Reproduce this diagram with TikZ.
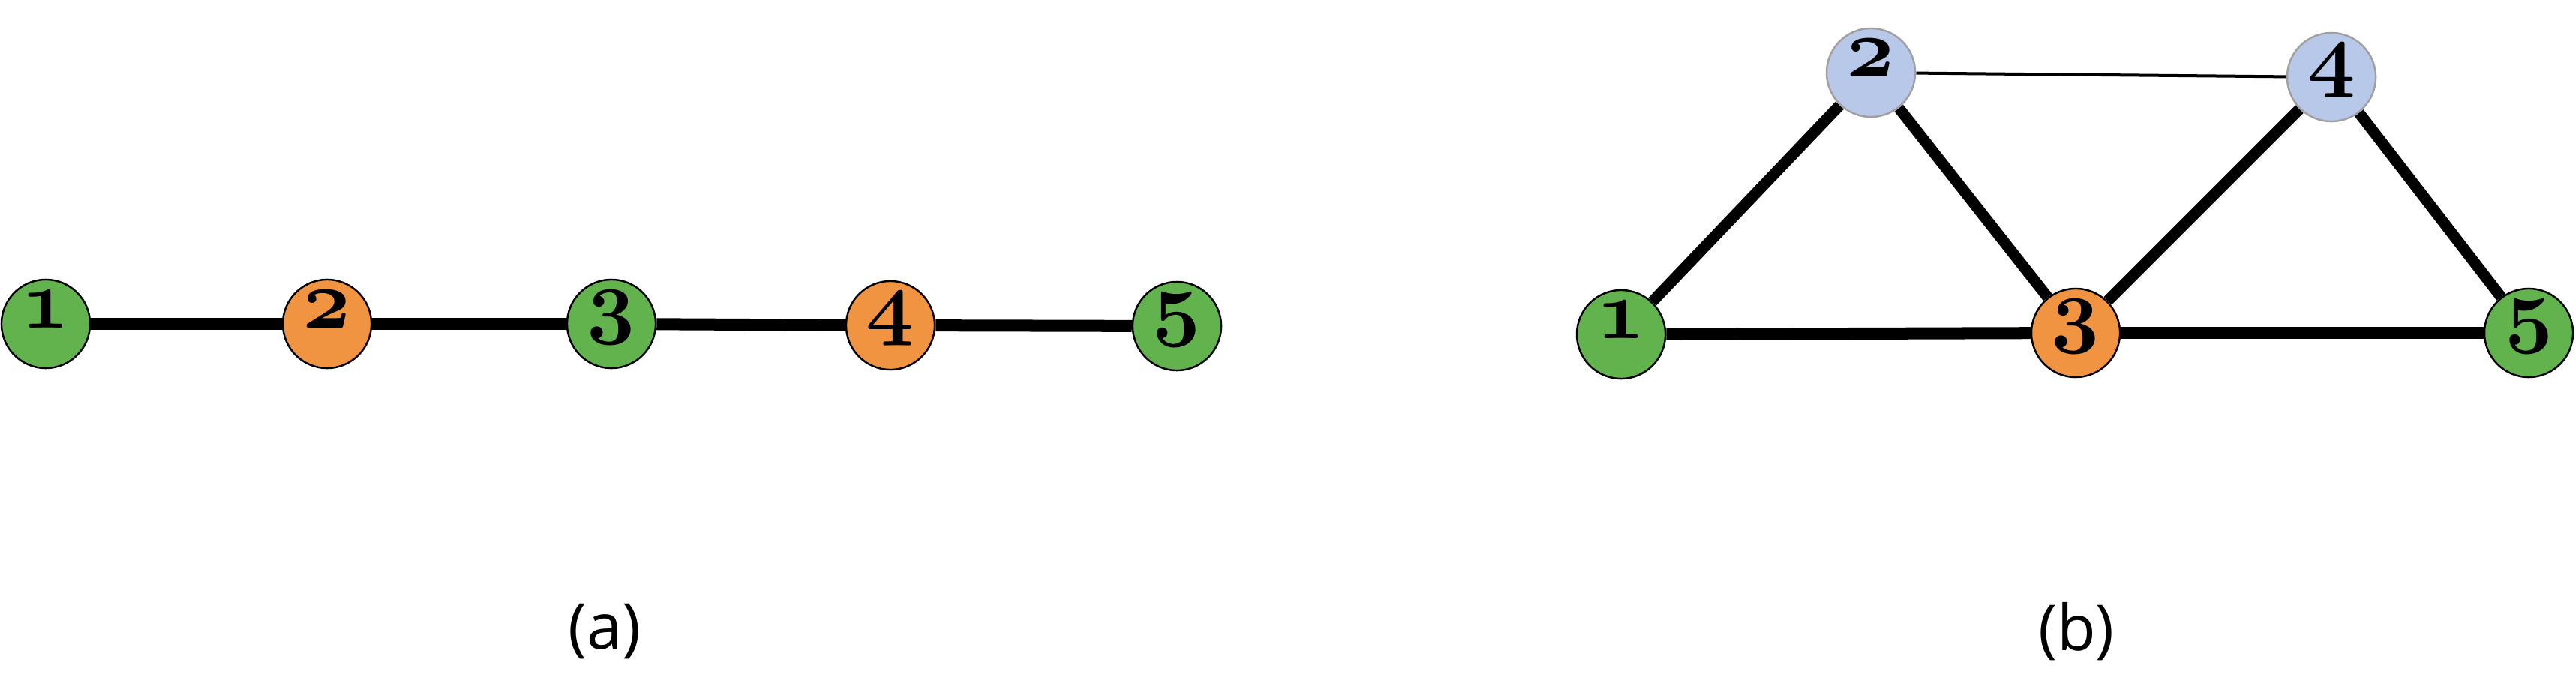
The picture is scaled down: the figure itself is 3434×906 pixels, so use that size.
\documentclass[tikz,border=0pt]{standalone}
\usepackage{fontspec}
\newfontfamily\capfont{Open Sans}
\usetikzlibrary{backgrounds}
\definecolor{vgreen}{HTML}{62B24E}
\definecolor{vorange}{HTML}{F09442}
\definecolor{vblue}{HTML}{B8C8E9}
\definecolor{vgray}{HTML}{A0A0A0}
\newcommand\osdig[1]{\scalebox{1.274}{\fontsize{24.88}{30}\usefont{OML}{cmm}{b}{it}#1}}
\tikzset{
  vtx/.style={circle, minimum size=1.18cm, inner sep=0pt, draw=black, line width=0.7pt,
    font=\fontsize{31.7}{38}\selectfont, text height=0.5em, text depth=0.213em},
  gv/.style={vtx, fill=vgreen},
  ov/.style={vtx, fill=vorange},
  bv/.style={vtx, fill=vblue, draw=vgray},
  thickedge/.style={line width=0.16cm},
  diagedge/.style={line width=0.148cm},
  thinedge/.style={line width=0.04cm},
  caplabel/.style={font=\capfont\fontsize{24}{29}\selectfont, inner sep=0pt}
}
\begin{document}
\begin{tikzpicture}[x=0.01cm, y=-0.01cm]
\useasboundingbox (0,0) rectangle (3434,906);
% (a)
\node[gv] (a1) at (61,432) {\osdig{1}};
\node[ov] (a2) at (436,432) {\osdig{2}};
\node[gv] (a3) at (815,432) {\osdig{3}};
\node[ov] (a4) at (1187,434) {\osdig{4}};
\node[gv] (a5) at (1569,435) {\osdig{5}};
% (b)
\node[gv] (b1) at (2161,446) {\osdig{1}};
\node[bv] (b2) at (2494,97) {\osdig{2}};
\node[ov] (b3) at (2767,444) {\osdig{3}};
\node[bv] (b4) at (3108,103) {\osdig{4}};
\node[gv] (b5) at (3371,444) {\osdig{5}};
\begin{scope}[on background layer]
% edges (a)
\draw[thickedge] (a1) -- (a2);
\draw[thickedge] (a2) -- (a3);
\draw[thickedge] (a3) -- (a4);
\draw[thickedge] (a4) -- (a5);
% edges (b)
\draw[diagedge] (b1) -- (b2);
\draw[diagedge] (b2) -- (b3);
\draw[diagedge] (b3) -- (b4);
\draw[diagedge] (b4) -- (b5);
\draw[thickedge] (b1) -- (b3);
\draw[thickedge] (b3) -- (b5);
\draw[thinedge] (b2) -- (b4);
\end{scope}
% labels
\node[caplabel] (la) at (806,842) {(a)};
\node[caplabel] (lb) at (2768,842) {(b)};
\end{tikzpicture}
\end{document}
